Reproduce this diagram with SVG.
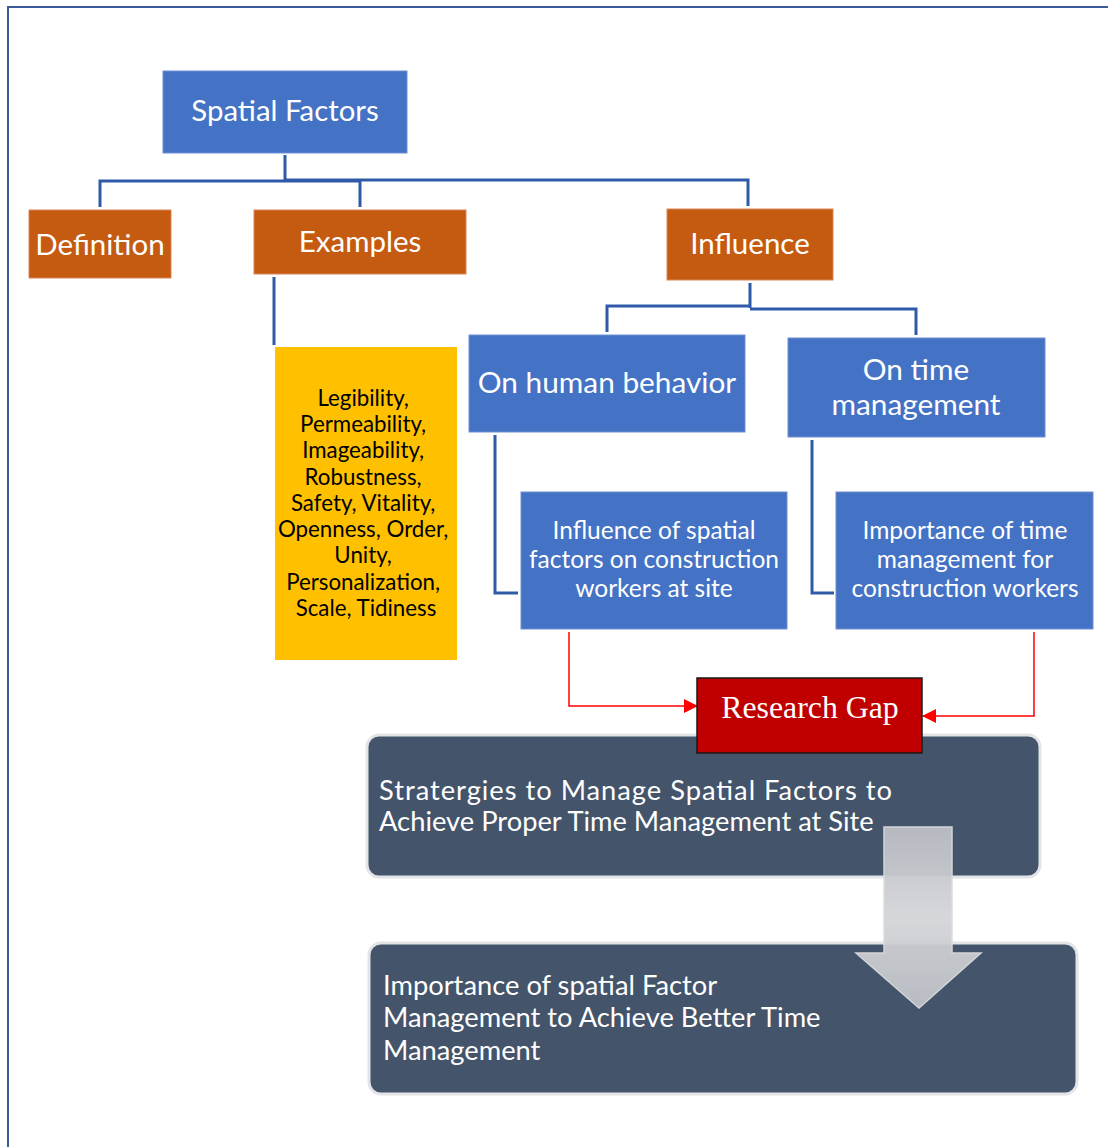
<svg xmlns="http://www.w3.org/2000/svg" width="1108" height="1147" viewBox="0 0 1108 1147">
<defs>
<style>
.t{font-family:Lato,"Open Sans","Liberation Sans",sans-serif;fill:#fff;text-anchor:middle}
.blue{fill:#4472C4;stroke:#6F8FD0;stroke-width:1}
.orange{fill:#C55A11;stroke:#D9865A;stroke-width:1}
.conn{fill:none;stroke:#2F5AA8;stroke-width:3}
.red{fill:none;stroke:#FF0000;stroke-width:1.5}
.dark{fill:#44546A;stroke:#E2E4E8;stroke-width:3}
.lt{font-family:Lato,"Open Sans","Liberation Sans",sans-serif;fill:#fff;font-size:27.3px}
</style>
<marker id="ah" markerWidth="14" markerHeight="14" refX="13" refY="7" orient="auto" markerUnits="userSpaceOnUse" viewBox="0 0 14 14">
<path d="M0,0 L14,7 L0,14 z" fill="#FF0000"/>
</marker>
<linearGradient id="ag" x1="0" y1="0" x2="0" y2="1">
<stop offset="0" stop-color="#BDBFC4"/>
<stop offset="0.5" stop-color="#D3D5D9"/>
<stop offset="1" stop-color="#BFC1C6"/>
</linearGradient>
</defs>
<rect width="1108" height="1147" fill="#fff"/>
<path d="M8,1147 V7 H1108" fill="none" stroke="#3A5A9C" stroke-width="2"/>

<g id="connectors">
<path class="conn" d="M285,155 V181 M100,207 V181 H360 V207 M285,180 H748 V206"/>
<path class="conn" d="M274,277 V345" stroke-width="2"/>
<path class="conn" d="M750,283 V308 M607,332 V306 H750 M750,309 H916 V335"/>
<path class="conn" d="M495,435 V593 H518"/>
<path class="conn" d="M812,440 V593 H834"/>
<path class="red" d="M569,632 V706 H697" marker-end="url(#ah)"/>
<path class="red" d="M1034,632 V716 H923" marker-end="url(#ah)"/>
</g>

<g id="spatial-factors">
<rect class="blue" x="163" y="71" width="244" height="82"/>
<text class="t" x="285" y="121" font-size="29.4">Spatial Factors</text>
</g>
<g id="definition">
<rect class="orange" x="29" y="210" width="142" height="68"/>
<text class="t" x="100" y="255" font-size="29.5">Definition</text>
</g>
<g id="examples">
<rect class="orange" x="254" y="210" width="212" height="64"/>
<text class="t" x="360" y="252" font-size="29.5">Examples</text>
</g>
<g id="influence">
<rect class="orange" x="667" y="209" width="166" height="71"/>
<text class="t" x="750" y="254" font-size="29.5">Influence</text>
</g>
<g id="examples-list">
<rect x="275" y="347" width="182" height="313" fill="#FFC000"/>
<text class="t" font-size="22.3" style="fill:#000">
<tspan x="366" y="406">Legibility,</tspan>
<tspan x="366" y="432">Permeability,</tspan>
<tspan x="366" y="458">Imageability,</tspan>
<tspan x="366" y="485">Robustness,</tspan>
<tspan x="366" y="511">Safety, Vitality,</tspan>
<tspan x="366" y="537">Openness, Order,</tspan>
<tspan x="366" y="563">Unity,</tspan>
<tspan x="366" y="590">Personalization,</tspan>
<tspan x="366" y="616">Scale, Tidiness</tspan>
</text>
</g>
<g id="on-human-behavior">
<rect class="blue" x="469" y="335" width="276" height="97"/>
<text class="t" x="607" y="393" font-size="29.8">On human behavior</text>
</g>
<g id="on-time-management">
<rect class="blue" x="788" y="338" width="257" height="99"/>
<text class="t" font-size="29.8"><tspan x="916" y="380">On time</tspan><tspan x="916" y="415">management</tspan></text>
</g>
<g id="influence-spatial">
<rect class="blue" x="521" y="492" width="266" height="137"/>
<text class="t" font-size="24.5"><tspan x="654" y="539">Influence of spatial</tspan><tspan x="654" y="568">factors on construction</tspan><tspan x="654" y="597">workers at site</tspan></text>
</g>
<g id="importance-time">
<rect class="blue" x="836" y="492" width="257" height="137"/>
<text class="t" font-size="24.5"><tspan x="965" y="539">Importance of time</tspan><tspan x="965" y="568">management for</tspan><tspan x="965" y="597">construction workers</tspan></text>
</g>
<g id="strategies">
<rect class="dark" x="367" y="735" width="673" height="142" rx="12"/>
<text class="lt"><tspan x="379" y="800" textLength="513" lengthAdjust="spacing">Stratergies to Manage Spatial Factors to</tspan><tspan x="379" y="831">Achieve Proper Time Management at Site</tspan></text>
</g>
<g id="research-gap">
<rect x="697" y="678" width="225" height="75" fill="#C00000" stroke="#1a1a1a" stroke-width="1.5"/>
<text x="810" y="718" font-family="Liberation Serif,serif" font-size="31.8" fill="#fff" text-anchor="middle">Research Gap</text>
</g>
<g id="importance-spatial">
<rect class="dark" x="369" y="943" width="708" height="151" rx="12"/>
<text class="lt"><tspan x="383" y="995">Importance of spatial Factor</tspan><tspan x="383" y="1027">Management to Achieve Better Time</tspan><tspan x="383" y="1060">Management</tspan></text>
</g>
<g id="down-arrow">
<path d="M884,827 H952 V953 H981 L919,1008 L856,953 H884 Z" fill="url(#ag)" opacity="0.95" stroke="#DADCE0" stroke-width="1.5"/>
</g>
</svg>
